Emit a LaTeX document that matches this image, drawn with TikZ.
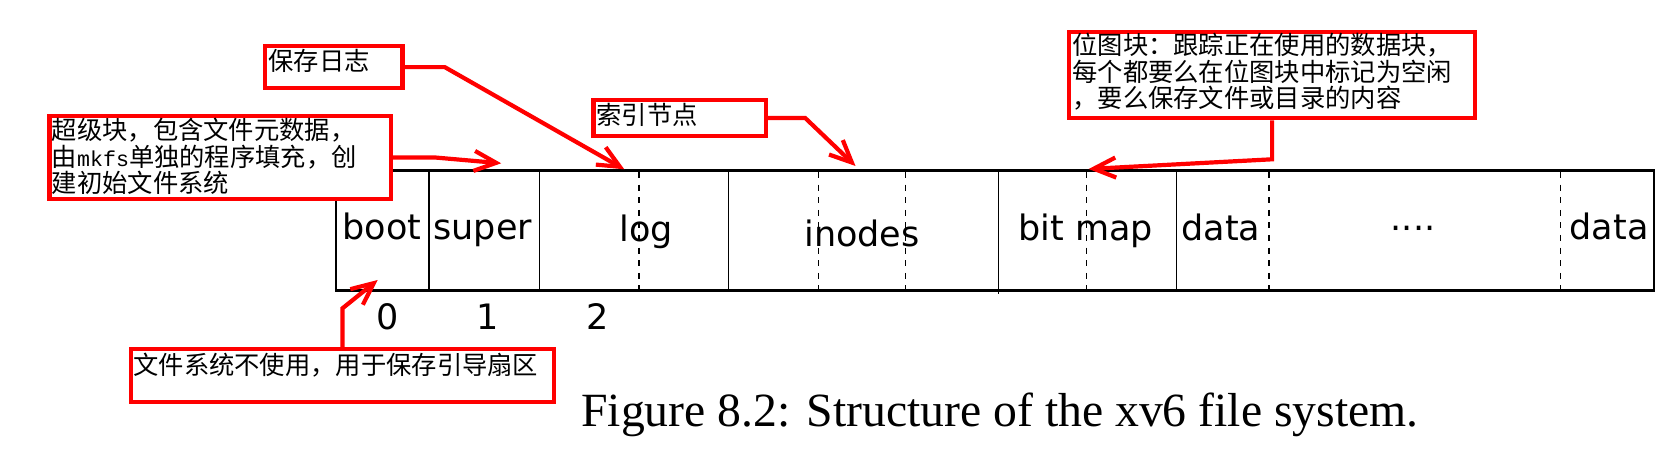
\documentclass[tikz,border=0pt]{standalone}
\usepackage{fontspec}
\usetikzlibrary{arrows.meta}
\newfontfamily\cjk{Noto Sans CJK SC}
\newfontfamily\dejavu{DejaVu Sans}
\newfontfamily\capserif{Liberation Serif}
\newfontfamily\monofam{Liberation Mono}
\tikzset{
  redbox/.style={draw=red, line width=2.1pt, fill=white, inner sep=0pt, rectangle},
  cjktext/.style={font=\cjk\fontsize{12.65pt}{13.25pt}\selectfont, inner sep=0pt, anchor=base west},
  lbl/.style={font=\dejavu\fontsize{17.5pt}{21pt}\selectfont, inner sep=0pt, anchor=base},
  callout/.style={draw=red, line width=2.1pt, -{Straight Barb[length=11pt,width=10pt]}},
  framebox/.style={line width=1.35pt},
  solidsep/.style={line width=0.6pt},
  dashsep/.style={line width=0.6pt, dash pattern=on 3pt off 3.3pt},
}
\begin{document}
\begin{tikzpicture}[x=0.5pt,y=-0.5pt]
\useasboundingbox (0,0) rectangle (1659,469);
% ---- block strip ----
\draw[framebox] (336,170.7) rectangle (1654,290.7);
\foreach \xx in {429,539.4,728.4,1176.2}
  \draw[solidsep] (\xx,170.7) -- (\xx,290.7);
\draw[solidsep] (998.7,170.7) -- (998.7,294);
\foreach \xx in {639,818.3,905.2,1086.5,1268.9,1560.6}
  \draw[dashsep] (\xx,172) -- (\xx,290);
\node[lbl] (boot) at (382,239.3) {boot};
\node[lbl] (super) at (482.7,239.3) {super};
\node[lbl] (log) at (646.3,241.7) {log};
\node[lbl] (inodes) at (862,246.7) {inodes};
\node[lbl] (bitmap) at (1085.6,240.7) {bit map};
\node[lbl] (data1) at (1221,240.7) {data};
\node[lbl] (dots) at (1413,240.7) {····};
\node[lbl] (data2) at (1609,240) {data};
\node[lbl] (n0) at (388,330) {0};
\node[lbl] (n1) at (488,330) {1};
\node[lbl] (n2) at (597.5,330) {2};
% ---- callout boxes ----
\node[redbox, minimum width=170.65pt, minimum height=41.5pt] (supbox) at (220.05,157.5) {};
\node[cjktext] (sup1) at (51.5,140) {超级块，包含文件元数据，};
\node[cjktext] (sup2) at (51.5,166.5) {由{\monofam\fontsize{10.8pt}{13pt}\selectfont mkfs}单独的程序填充，创};
\node[cjktext] (sup3) at (51.5,193) {建初始文件系统};
\node[redbox, minimum width=68.75pt, minimum height=21.15pt] (logbox) at (333.75,67.15) {};
\node[cjktext] (logt) at (268,70.5) {保存日志};
\node[redbox, minimum width=86.1pt, minimum height=18pt] (inobox) at (679.5,118) {};
\node[cjktext] (inot) at (596,125) {索引节点};
\node[redbox, minimum width=203.1pt, minimum height=43pt] (bmbox) at (1272.1,75.3) {};
\node[cjktext] (bm1) at (1072,55) {位图块：跟踪正在使用的数据块，};
\node[cjktext] (bm2) at (1072,81.5) {每个都要么在位图块中标记为空闲};
\node[cjktext] (bm3) at (1072,108) {，要么保存文件或目录的内容};
\node[redbox, minimum width=211.8pt, minimum height=26.35pt] (bootbox) at (342.5,375.35) {};
\node[cjktext] (boott) at (133,375) {文件系统不使用，用于保存引导扇区};
% ---- connectors ----
\coordinate (supbend) at (435,157.5);
\coordinate (suptip) at (501.2,163.3);
\coordinate (logbend) at (444.8,67.15);
\coordinate (logtip) at (624.3,169.3);
\coordinate (inobend) at (805.2,118);
\coordinate (inotip) at (855.5,166);
\coordinate (bmbend) at (1272.1,159.3);
\coordinate (bmtip) at (1088.7,169);
\coordinate (bootbend) at (342.5,308.3);
\coordinate (boottip) at (377.7,280);
\draw[callout] (supbox.east) -- (supbend) -- (suptip);
\draw[callout] (logbox.east) -- (logbend) -- (logtip);
\draw[callout] (inobox.east) -- (inobend) -- (inotip);
\draw[callout] (bmbox.south) -- (bmbend) -- (bmtip);
\draw[callout] (bootbox.north) -- (bootbend) -- (boottip);
% ---- caption ----
\node[anchor=base west, inner sep=0pt, font=\capserif\fontsize{23.85pt}{28pt}\selectfont] (caption) at (580.9,426.7) {Figure 8.2: Structure of the xv6 file system.};
\end{tikzpicture}
\end{document}
